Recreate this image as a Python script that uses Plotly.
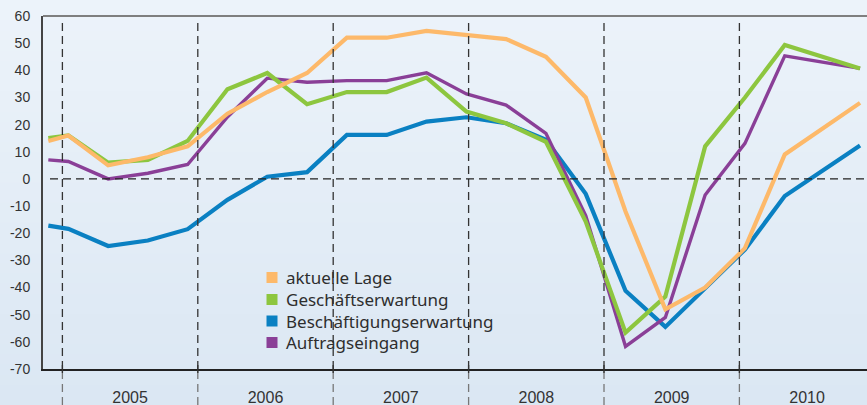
import plotly.graph_objects as go

# ---- data ----
survey_pos = [2004.896, 2005.044, 2005.338, 2005.631, 2005.925, 2006.219, 2006.513,
              2006.807, 2007.101, 2007.395, 2007.689, 2007.984, 2008.277, 2008.571,
              2008.865, 2009.159, 2009.453, 2009.747, 2010.041, 2010.335, 2010.891]
aktuelle_lage = [14, 16, 5, 8, 12, 24, 32, 39, 52, 52, 54.5, 53, 51.5, 45, 30,
                 -12, -48, -40, -25.5, 9, 28]
geschaeftserwartung = [15, 16, 6, 7, 14, 33, 39, 27.5, 32, 32, 37.3, 24.8, 20.5, 13.7,
                       -15.7, -56.6, -43.3, 12, 30, 49.3, 40.7]
beschaeftigung = [-17.2, -18.4, -24.7, -22.7, -18.5, -7.7, 0.8, 2.5, 16.2, 16.2, 21.1,
                  22.7, 20.5, 14.4, -5.5, -41.2, -54.5, -40.2, -26, -6.3, 12.3]
auftragseingang = [7, 6.4, 0, 2.1, 5.3, 22.8, 37.1, 35.6, 36.2, 36.2, 39.1, 31.3, 27.2,
                   16.8, -13.5, -61.7, -51, -5.9, 13.1, 45.3, 40.7]
years = [2005, 2006, 2007, 2008, 2009, 2010]
y_ticks = list(range(-70, 61, 10))

names = ["aktuelle Lage", "Geschäftserwartung", "Beschäftigungserwartung", "Auftragseingang"]
colors = ["#fdb96a", "#8dc63f", "#0a80c2", "#8a3f97"]

W, H = 867, 405
L, R, T, B = 43, 0, 16, 36
PW, PH = W - L - R, H - T - B


def px_x(p):
    return (p - L) / PW


def px_y(p):
    return 1 - (p - T) / PH


fig = go.Figure()

# lines (draw order: blue, purple, green, orange)
series = [aktuelle_lage, geschaeftserwartung, beschaeftigung, auftragseingang]
widths = [4.2, 4.2, 4.2, 3.4]
for idx in [2, 3, 1, 0]:
    fig.add_trace(go.Scatter(x=survey_pos, y=series[idx], mode="lines", name=names[idx],
                             line=dict(color=colors[idx], width=widths[idx]),
                             showlegend=False, hoverinfo="skip"))

shapes = []
annotations = []
# background gradient bands
nb = 40
top_c = (0xec, 0xf3, 0xfa)
bot_c = (0xdb, 0xe7, 0xf3)
for i in range(nb):
    t = i / (nb - 1)
    c = tuple(round(top_c[k] + (bot_c[k] - top_c[k]) * t) for k in range(3))
    y1 = 1 + T / PH - i * (H / PH) / nb
    y0 = y1 - (H / PH) / nb - 0.002
    shapes.append(dict(type="rect", xref="paper", yref="paper", x0=-L / PW - 0.01, x1=1.01,
                       y0=y0, y1=y1, fillcolor="rgb(%d,%d,%d)" % c, line_width=0,
                       layer="below"))
# vertical dashed year separators
for yr in years:
    shapes.append(dict(type="line", xref="x", yref="paper", x0=yr, x1=yr,
                       y0=0, y1=px_y(20),
                       line=dict(color="#333333", width=1.3, dash="8px,5px")))
    shapes.append(dict(type="line", xref="x", yref="paper", x0=yr, x1=yr,
                       y0=-B / PH, y1=0,
                       line=dict(color="#777777", width=1.3, dash="8px,5px")))
    shapes.append(dict(type="line", xref="x", yref="paper", x0=yr, x1=yr,
                       y0=-4 / PH, y1=4 / PH, line=dict(color="#333333", width=1.3)))
# zero line
shapes.append(dict(type="line", xref="paper", yref="y", x0=px_x(50), x1=1, y0=0, y1=0,
                   line=dict(color="#222222", width=1.3, dash="8px,5px")))
# top border
shapes.append(dict(type="line", xref="paper", yref="paper", x0=0, x1=1, y0=1, y1=1,
                   line=dict(color="#7f7f7f", width=2)))

# legend (squares + labels)
row_y = [277.5, 299.5, 321.0, 342.5]
for n, c, ry in zip(names, colors, row_y):
    shapes.append(dict(type="rect", xref="paper", yref="paper",
                       x0=px_x(266.5), x1=px_x(277.5), y0=px_y(ry + 5.5), y1=px_y(ry - 5.5),
                       fillcolor=c, line_width=0))
    annotations.append(dict(xref="paper", yref="paper", x=px_x(284), y=px_y(ry),
                            xanchor="left", yanchor="middle", text=n, showarrow=False,
                            font=dict(family="Noto Sans", size=17, color="#2e2e2e")))

fig.update_layout(
    width=W, height=H,
    margin=dict(l=L, r=R, t=T, b=B, autoexpand=False),
    paper_bgcolor="#e4edf7",
    plot_bgcolor="rgba(0,0,0,0)",
    shapes=shapes,
    annotations=annotations,
    showlegend=False,
    xaxis=dict(range=[2005 - (62.4 - L) / 135.4, 2005 + (W - 62.4) / 135.4],
               tickvals=[y + 0.5 for y in years], ticktext=[str(y) for y in years],
               ticks="", showgrid=False, zeroline=False, showline=True,
               linecolor="#222222", linewidth=1.5, ticklabelstandoff=13,
               tickfont=dict(family="Liberation Sans", size=16, color="#333333"),
               fixedrange=True),
    yaxis=dict(range=[-70, 60], tickvals=y_ticks, ticktext=[str(v) for v in y_ticks],
               ticks="", showgrid=False, zeroline=False, showline=True,
               linecolor="#444444", linewidth=2, ticklabelstandoff=8,
               tickfont=dict(family="Liberation Sans", size=14, color="#333333"),
               fixedrange=True),
)

fig.write_html("out.html", config={"displayModeBar": False},
               post_script="document.body.style.margin='0';document.body.style.overflow='hidden';")
